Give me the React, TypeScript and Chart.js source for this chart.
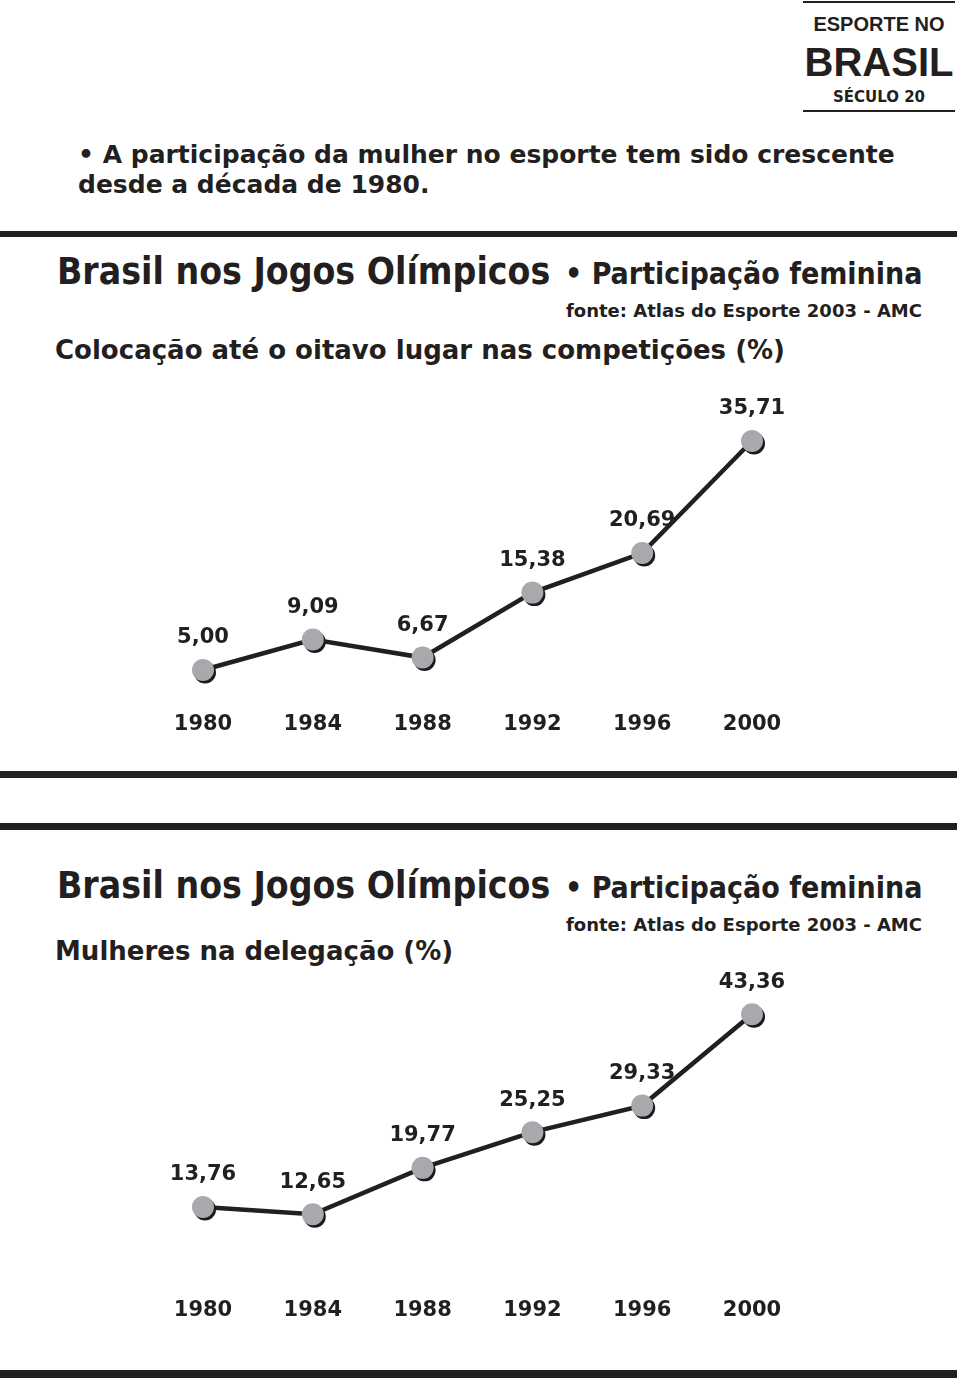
import React, { useEffect, useRef } from "react";
import { Chart, registerables } from "chart.js";

Chart.register(...registerables);

// ---- data ----
const years = ["1980", "1984", "1988", "1992", "1996", "2000"];
const placementPct = [5.0, 9.09, 6.67, 15.38, 20.69, 35.71];
const delegationPct = [13.76, 12.65, 19.77, 25.25, 29.33, 43.36];

const INK = "#231f20";
const MARKER = "#a7a9ac";
const VERDANA = "'DejaVu Sans', Verdana, sans-serif";
const ARIAL = "'Liberation Sans', Arial, sans-serif";
const CONDENSED = "'DejaVu Sans Condensed', 'DejaVu Sans', sans-serif";

const fmt = (v: number) => v.toFixed(2).replace(".", ",");

const decorPlugin = {
  id: "decor",
  beforeDatasetDraw(chart: any, args: any) {
    if (args.index === 0) {
      const ctx = chart.ctx;
      ctx.save();
      ctx.shadowColor = "#1d1a1b";
      ctx.shadowOffsetX = 2;
      ctx.shadowOffsetY = 2.5;
      ctx.shadowBlur = 0;
    }
  },
  afterDatasetDraw(chart: any, args: any) {
    if (args.index === 0) chart.ctx.restore();
  },
  afterDatasetsDraw(chart: any) {
    const ctx = chart.ctx;
    const meta = chart.getDatasetMeta(0);
    const values = chart.data.datasets[0].data as number[];
    ctx.save();
    ctx.font = `bold 21px ${VERDANA}`;
    ctx.fillStyle = INK;
    ctx.textAlign = "center";
    ctx.textBaseline = "middle";
    meta.data.forEach((pt: any, i: number) => {
      ctx.fillText(fmt(values[i]), pt.x, pt.y - 32);
    });
    ctx.restore();
  },
};

type LineProps = {
  values: number[];
  top: number;
  height: number;
  yMin: number;
  yMax: number;
  padTop: number;
  axisHeight: number;
  tickPad: number;
};

function LineChart({ values, top, height, yMin, yMax, padTop, axisHeight, tickPad }: LineProps) {
  const ref = useRef<HTMLCanvasElement | null>(null);
  useEffect(() => {
    if (!ref.current) return;
    const chart = new Chart(ref.current, {
      type: "line",
      data: {
        labels: years,
        datasets: [
          {
            data: values,
            showLine: false,
            pointRadius: 11,
            pointBackgroundColor: MARKER,
            pointBorderWidth: 0,
            pointBorderColor: MARKER,
            clip: false as any,
          },
          {
            data: values,
            borderColor: INK,
            borderWidth: 4.5,
            pointRadius: 0,
            tension: 0,
            fill: false,
            clip: false as any,
          },
        ],
      },
      options: {
        responsive: false,
        animation: false,
        layout: { padding: { top: padTop, left: 203, right: 208, bottom: 0 } },
        plugins: { legend: { display: false }, tooltip: { enabled: false } },
        scales: {
          x: {
            type: "category",
            offset: false,
            grid: { display: false, drawTicks: false },
            border: { display: false },
            afterFit: (s: any) => {
              s.height = axisHeight;
            },
            ticks: {
              color: INK,
              padding: tickPad,
              maxRotation: 0,
              autoSkip: false,
              font: { family: VERDANA, size: 21, weight: "bold" },
            },
          },
          y: { display: false, min: yMin, max: yMax },
        },
      },
      plugins: [decorPlugin],
    });
    return () => chart.destroy();
  }, []);
  return (
    <canvas
      ref={ref}
      width={960}
      height={height}
      style={{ position: "absolute", left: 0, top, width: 960, height }}
    />
  );
}

const abs = (top: number, left: number, extra: React.CSSProperties = {}): React.CSSProperties => ({
  position: "absolute",
  top,
  left,
  whiteSpace: "nowrap",
  lineHeight: 1,
  color: INK,
  ...extra,
});

const bar = (top: number, h: number): React.CSSProperties => ({
  position: "absolute",
  top,
  left: 0,
  width: 957,
  height: h,
  background: INK,
});

export default function App() {
  useEffect(() => {
    document.body.style.margin = "0";
  }, []);
  return (
    <div style={{ position: "relative", width: 960, height: 1378, background: "#fff", overflow: "hidden" }}>
      {/* header box */}
      <div style={{ position: "absolute", top: 1, left: 803, width: 152, height: 2, background: INK }} />
      <div style={{ position: "absolute", top: 110, left: 803, width: 152, height: 2, background: INK }} />
      <div style={abs(14, 803, { width: 152, textAlign: "center", fontFamily: ARIAL, fontWeight: "bold", fontSize: 20 })}>
        ESPORTE NO
      </div>
      <div style={abs(42, 803, { width: 152, textAlign: "center", fontFamily: ARIAL, fontWeight: "bold", fontSize: 40 })}>
        BRASIL
      </div>
      <div style={abs(90, 803, { width: 152, textAlign: "center", fontFamily: VERDANA, fontWeight: "bold", fontSize: 15 })}>
        SÉCULO 20
      </div>

      <div style={abs(142, 78, { fontFamily: VERDANA, fontWeight: "bold", fontSize: 25 })}>
        • A participação da mulher no esporte tem sido crescente
      </div>
      <div style={abs(172, 78, { fontFamily: VERDANA, fontWeight: "bold", fontSize: 25 })}>
        desde a década de 1980.
      </div>

      <div style={bar(231, 6)} />

      {/* chart 1 titles */}
      <div style={abs(253, 57, { fontFamily: CONDENSED, fontWeight: "bold", fontSize: 37 })}>
        Brasil nos Jogos Olímpicos
      </div>
      <div style={abs(259, 565, { fontFamily: CONDENSED, fontWeight: "bold", fontSize: 30 })}>
        • Participação feminina
      </div>
      <div style={abs(302, 545, { width: 377, textAlign: "right", fontFamily: VERDANA, fontWeight: "bold", fontSize: 18 })}>
        fonte: Atlas do Esporte 2003 - AMC
      </div>
      <div style={abs(337, 55, { fontFamily: VERDANA, fontWeight: "bold", fontSize: 26 })}>
        Colocação até o oitavo lugar nas competições (%)
      </div>

      <LineChart values={placementPct} top={380} height={370} yMin={0} yMax={40} padTop={29} axisHeight={42.7} tickPad={5} />

      <div style={bar(771, 7)} />
      <div style={bar(823, 7)} />

      {/* chart 2 titles */}
      <div style={abs(867, 57, { fontFamily: CONDENSED, fontWeight: "bold", fontSize: 37 })}>
        Brasil nos Jogos Olímpicos
      </div>
      <div style={abs(873, 565, { fontFamily: CONDENSED, fontWeight: "bold", fontSize: 30 })}>
        • Participação feminina
      </div>
      <div style={abs(916, 545, { width: 377, textAlign: "right", fontFamily: VERDANA, fontWeight: "bold", fontSize: 18 })}>
        fonte: Atlas do Esporte 2003 - AMC
      </div>
      <div style={abs(938, 55, { fontFamily: VERDANA, fontWeight: "bold", fontSize: 26 })}>
        Mulheres na delegação (%)
      </div>

      <LineChart values={delegationPct} top={960} height={380} yMin={0} yMax={50} padTop={7.2} axisHeight={43.4} tickPad={1} />

      <div style={bar(1370, 8)} />
    </div>
  );
}
